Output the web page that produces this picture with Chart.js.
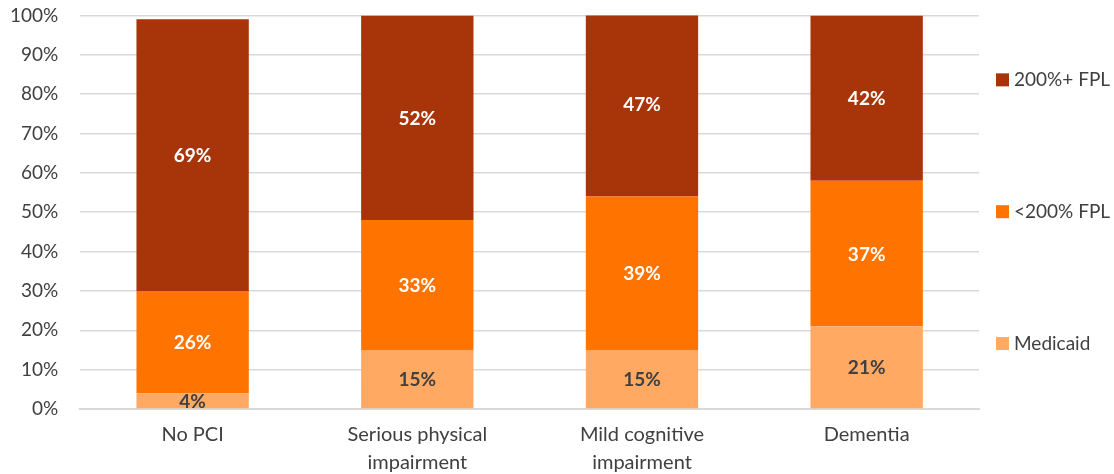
<!DOCTYPE html>
<html>
<head>
<meta charset="utf-8">
<script src="https://cdn.jsdelivr.net/npm/chart.js@4/dist/chart.umd.min.js"></script>
<style>
  body { margin: 0; background: #fff; }
  #wrap { width: 1114px; height: 474px; }
</style>
</head>
<body>
<div id="wrap"><canvas id="fplChart" width="1114" height="474"></canvas></div>
<script>
// Catégories et séries (en %)
const categories = ['No PCI', ['Serious physical', 'impairment'], ['Mild cognitive', 'impairment'], 'Dementia'];
const medicaid = [4, 15, 15, 21];
const under200 = [26, 33, 39, 37];
const over200 = [69, 52, 47, 42];
const yTicks = [0, 10, 20, 30, 40, 50, 60, 70, 80, 90, 100];

const fontFamily = 'Lato, "Open Sans", sans-serif';
const textColor = '#404040';
const labelColors = [textColor, '#ffffff', '#ffffff'];

// Étiquettes de valeur au centre de chaque segment
const segmentLabels = {
    id: 'segmentLabels',
    afterDatasetsDraw(chart) {
        const ctx = chart.ctx;
        ctx.save();
        ctx.font = 'bold 19px ' + fontFamily;
        ctx.textAlign = 'center';
        ctx.textBaseline = 'middle';
        chart.data.datasets.forEach((ds, i) => {
            ctx.fillStyle = labelColors[i];
            chart.getDatasetMeta(i).data.forEach((bar, j) => {
                const p = bar.getProps(['x', 'y', 'base'], true);
                ctx.fillText(ds.data[j] + '%', p.x, (p.y + p.base) / 2 + 1);
            });
        });
        ctx.restore();
    }
};

// Légende à droite, éléments répartis sur la hauteur du graphique (ordre inversé)
const sideLegend = {
    id: 'sideLegend',
    afterDraw(chart) {
        const ctx = chart.ctx;
        const area = chart.chartArea;
        const mid = (area.top + area.bottom) / 2;
        const step = (area.bottom - area.top) * 0.335;
        const x = area.right + 17;
        ctx.save();
        ctx.font = '19px ' + fontFamily;
        ctx.textBaseline = 'middle';
        chart.data.datasets.slice().reverse().forEach((ds, k) => {
            const y = mid + (k - 1) * step;
            ctx.fillStyle = ds.backgroundColor;
            ctx.fillRect(x, y - 7, 13, 13);
            ctx.fillStyle = textColor;
            ctx.fillText(ds.label, x + 18, y);
        });
        ctx.restore();
    }
};

new Chart(document.getElementById('fplChart').getContext('2d'), {
    type: 'bar',
    data: {
        labels: categories,
        datasets: [
            { label: 'Medicaid', data: medicaid, backgroundColor: '#FFA962' },
            { label: '<200% FPL', data: under200, backgroundColor: '#FF7300' },
            { label: '200%+ FPL', data: over200, backgroundColor: '#A83509' }
        ]
    },
    options: {
        responsive: false,
        animation: false,
        layout: { padding: { left: 6, right: 135, top: 0, bottom: -7 } },
        datasets: {
            bar: { categoryPercentage: 1, barPercentage: 0.5 }
        },
        plugins: {
            legend: { display: false },
            tooltip: { enabled: false }
        },
        scales: {
            x: {
                stacked: true,
                grid: { display: false },
                border: { color: '#d9d9d9', width: 2 },
                ticks: {
                    color: textColor,
                    padding: 4,
                    maxRotation: 0,
                    font: { family: fontFamily, size: 20, lineHeight: 1.4 }
                }
            },
            y: {
                stacked: true,
                min: 0,
                max: 100,
                afterBuildTicks(axis) {
                    axis.ticks = yTicks.map(v => ({ value: v }));
                },
                // marque de graduation invisible pour écarter les libellés
                grid: { color: '#d9d9d9', lineWidth: 1.5, tickLength: 18, tickColor: 'rgba(0,0,0,0)' },
                border: { display: false },
                ticks: {
                    color: textColor,
                    padding: 4,
                    font: { family: fontFamily, size: 19 },
                    callback: v => v + '%'
                }
            }
        }
    },
    plugins: [segmentLabels, sideLegend]
});
</script>
</body>
</html>
